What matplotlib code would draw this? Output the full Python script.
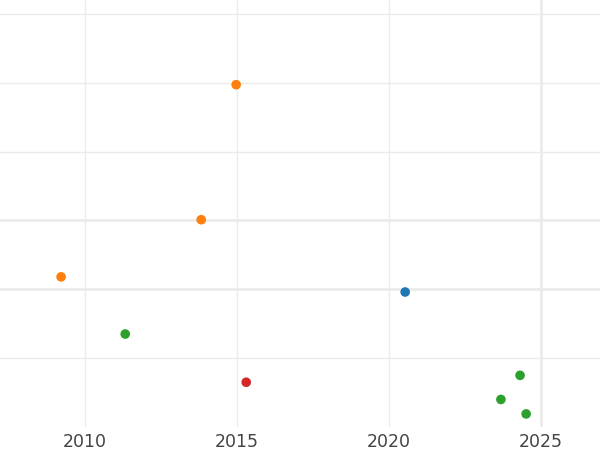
import matplotlib
matplotlib.use('Agg')
from matplotlib import pyplot as plt

# points (year, value)
years = [2014.97, 2013.82, 2009.21, 2011.32, 2015.30, 2020.53, 2024.31, 2023.68, 2024.51]
values = [3.97, 2.01, 1.18, 0.35, -0.35, 0.96, -0.25, -0.60, -0.81]
groups = ['orange', 'orange', 'orange', 'green', 'red', 'blue', 'green', 'green', 'green']

palette = {'blue': '#1f77b4', 'orange': '#ff7f0e', 'green': '#2ca02c', 'red': '#d62728'}
xticks = [2010, 2015, 2020, 2025]
yticks = [0, 1, 2, 3, 4, 5]

fig = plt.figure(figsize=(6, 4.5), dpi=100)
ax = fig.add_axes([0, 23 / 450, 1, 427 / 450])

ax.set_xlim(2007.2, 2026.94)
ax.set_ylim(-1.0, 5.2)

for x in xticks:
    ax.axvline(x, color='#ebebeb', lw=2.0 if x == 2025 else 1.0, zorder=0)
for y in yticks:
    ax.axhline(y, color='#ebebeb', lw=2.0 if y in (1, 2) else 1.0, zorder=0)

ax.scatter(years, values, c=[palette[g] for g in groups], s=48, linewidths=0, zorder=3)

ax.set_xticks(xticks)
ax.set_xticklabels([str(x) for x in xticks], fontsize=12.5, color='#444444')
ax.tick_params(axis='x', length=0, pad=4)
ax.set_yticks([])
for s in ax.spines.values():
    s.set_visible(False)

fig.savefig('out.png', dpi=100)
